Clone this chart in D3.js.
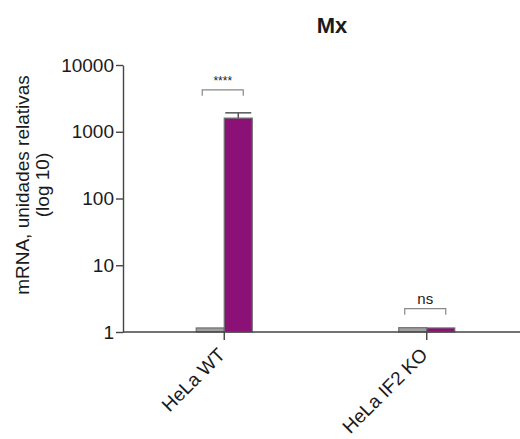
<!DOCTYPE html>
<meta charset="utf-8">
<title>Mx</title>
<style>
body { margin: 0; background: #fff; font-family: Arial, "Liberation Sans", sans-serif; }
svg text { fill: #1a1a1a; }
.axis path, .axis line { stroke: #444; stroke-width: 1.4; }
.axis text { font-size: 19px; font-family: Arial, "Liberation Sans", sans-serif; fill: #1a1a1a; }
</style>
<body>
<svg id="chart" width="520" height="439"></svg>
<script src="https://cdn.jsdelivr.net/npm/d3@7"></script>
<script>
// data
var groups = ["HeLa WT", "HeLa IF2 KO"];
var series = ["mock", "treated"];
var mockValues = [1.15, 1.16];
var treatedValues = [1600, 1.15];
var treatedErr = [320, 0];
var mockErr = [0, 0];
var yTicks = [1, 10, 100, 1000, 10000];
var sigLabels = ["****", "ns"];

var colors = {mock: "#a0a0a0", treated: "#8c1177"};

var svg = d3.select("#chart");

var y = d3.scaleLog().domain([1, 10000]).range([332, 65]);
var x = d3.scaleBand().domain(groups).range([123, 528]);
var xs = d3.scaleBand().domain(series).range([-28, 28]);

var rows = [];
groups.forEach(function(g, i) {
  rows.push({group: g, s: "mock", v: mockValues[i], e: mockErr[i]});
  rows.push({group: g, s: "treated", v: treatedValues[i], e: treatedErr[i]});
});

function cx(g) { return x(g) + x.bandwidth() / 2; }

// error bars (behind bars)
var eb = svg.append("g").attr("stroke", "#555").attr("stroke-width", 1.5);
rows.filter(function(d) { return d.e > 0; }).forEach(function(d) {
  var mid = cx(d.group) + xs(d.s) + xs.bandwidth() / 2;
  eb.append("line").attr("x1", mid).attr("x2", mid)
    .attr("y1", y(d.v)).attr("y2", y(d.v + d.e));
  eb.append("line").attr("x1", mid - 13).attr("x2", mid + 13)
    .attr("y1", y(d.v + d.e)).attr("y2", y(d.v + d.e));
});

// bars
svg.append("g").selectAll("rect")
  .data(rows)
  .join("rect")
  .attr("x", function(d) { return cx(d.group) + xs(d.s); })
  .attr("width", xs.bandwidth())
  .attr("y", function(d) { return y(d.v); })
  .attr("height", function(d) { return y(1) - y(d.v); })
  .attr("fill", function(d) { return colors[d.s]; })
  .attr("stroke", "#6e6e6e")
  .attr("stroke-width", 1.2);

// y axis
svg.append("g")
  .attr("class", "axis")
  .attr("transform", "translate(123,0)")
  .call(d3.axisLeft(y).tickValues(yTicks).tickFormat(d3.format("d")).tickSize(7).tickSizeOuter(0))
  .call(function(g) { g.selectAll("text").attr("x", -9); });

// x axis
var xa = svg.append("g")
  .attr("class", "axis")
  .attr("transform", "translate(0,332)")
  .call(d3.axisBottom(x).tickSize(8).tickSizeOuter(0));
xa.select(".domain").attr("d", "M123,0H520");
xa.selectAll("text")
  .style("font-size", "19px")
  .attr("text-anchor", "end")
  .attr("transform", "translate(2,24) rotate(-45)")
  .attr("dy", 0)
  .attr("y", 0);

// significance brackets
var br = svg.append("g");
groups.forEach(function(g, i) {
  var top = Math.max(mockValues[i] + mockErr[i], treatedValues[i] + treatedErr[i]);
  var by = y(top) - (i === 0 ? 23 : 19);
  var x0 = cx(g) - 22, x1 = cx(g) + 19;
  br.append("path")
    .attr("d", "M" + x0 + "," + (by + 6) + "V" + by + "H" + x1 + "V" + (by + 6))
    .attr("fill", "none").attr("stroke", "#888").attr("stroke-width", 1.2);
  br.append("text")
    .attr("x", (x0 + x1) / 2).attr("y", by - 5)
    .attr("text-anchor", "middle")
    .style("font-size", i === 0 ? "12px" : "15px")
    .text(sigLabels[i]);
});

// title
svg.append("text")
  .attr("x", 332).attr("y", 33)
  .attr("text-anchor", "middle")
  .style("font-size", "22px").style("font-weight", "bold")
  .text("Mx");

// y label
var yl = svg.append("text")
  .attr("transform", "translate(29,185) rotate(-90)")
  .attr("text-anchor", "middle")
  .style("font-size", "19px");
yl.append("tspan").attr("x", 0).attr("y", 0).text("mRNA, unidades relativas");
yl.append("tspan").attr("x", 0).attr("y", 20).text("(log 10)");
</script>
</body>
